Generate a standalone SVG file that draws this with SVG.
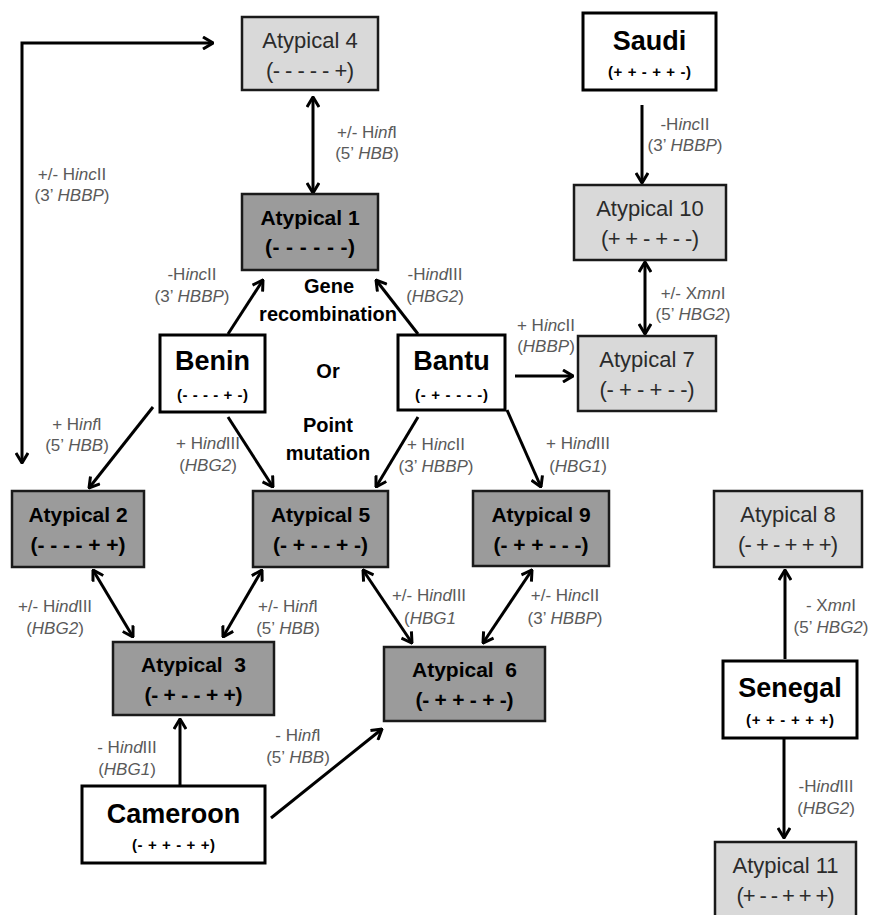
<svg xmlns="http://www.w3.org/2000/svg" width="871" height="915" viewBox="0 0 871 915">
<style>
text{font-family:"Liberation Sans",Arial,sans-serif;text-anchor:middle}
.light{fill:#d9d9d9;stroke:#1a1a1a;stroke-width:2.5}
.dark{fill:#9b9b9b;stroke:#1a1a1a;stroke-width:2.5}
.white{fill:#fff;stroke:#000;stroke-width:3}
.lt{font-size:22px;fill:#2b2b2b}
.dt{font-size:21px;font-weight:bold;fill:#000}
.ct{font-size:27px;font-weight:bold;fill:#000}
.cg{font-size:15px;font-weight:bold;fill:#000}
.lab{font-size:17px;fill:#5a5a5a}
.mid{font-size:20px;font-weight:bold;fill:#000}
.i{font-style:italic}
.conn line,.conn path{stroke:#000;stroke-width:3;fill:none}
</style>
<defs>
<marker id="ah" viewBox="0 0 12 14" refX="11" refY="7" markerWidth="12" markerHeight="14" markerUnits="userSpaceOnUse" orient="auto-start-reverse">
<path d="M1,1 L11,7 L1,13" fill="none" stroke="#000" stroke-width="3"/>
</marker>
</defs>

<g class="conn" id="connectors">
<path d="M22,463 V43 H213" marker-start="url(#ah)" marker-end="url(#ah)"/>
<line x1="313" y1="97" x2="313" y2="193" marker-start="url(#ah)" marker-end="url(#ah)"/>
<line x1="642" y1="105" x2="642" y2="183" marker-end="url(#ah)"/>
<line x1="645" y1="262" x2="645" y2="334" marker-start="url(#ah)" marker-end="url(#ah)"/>
<line x1="228" y1="334" x2="263" y2="280" marker-end="url(#ah)"/>
<line x1="418" y1="334" x2="376" y2="280" marker-end="url(#ah)"/>
<line x1="515" y1="376" x2="573" y2="376" marker-end="url(#ah)"/>
<line x1="153" y1="407" x2="89" y2="488" marker-end="url(#ah)"/>
<line x1="228" y1="417" x2="273" y2="487" marker-end="url(#ah)"/>
<line x1="418" y1="417" x2="376" y2="487" marker-end="url(#ah)"/>
<line x1="507" y1="410" x2="541" y2="487" marker-end="url(#ah)"/>
<line x1="93" y1="570" x2="133" y2="637" marker-start="url(#ah)" marker-end="url(#ah)"/>
<line x1="262" y1="570" x2="223" y2="637" marker-start="url(#ah)" marker-end="url(#ah)"/>
<line x1="363" y1="570" x2="412" y2="643" marker-start="url(#ah)" marker-end="url(#ah)"/>
<line x1="532" y1="570" x2="483" y2="643" marker-start="url(#ah)" marker-end="url(#ah)"/>
<line x1="180" y1="786" x2="180" y2="719" marker-end="url(#ah)"/>
<line x1="271" y1="818" x2="382" y2="729" marker-end="url(#ah)"/>
<line x1="785" y1="659" x2="785" y2="570" marker-end="url(#ah)"/>
<line x1="784" y1="738" x2="784" y2="838" marker-end="url(#ah)"/>
</g>

<g id="labels">
<text class="lab" x="72" y="180">+/- H<tspan class="i">inc</tspan>II</text>
<text class="lab" x="72" y="201">(3’ <tspan class="i">HBBP</tspan>)</text>
<text class="lab" x="367" y="138">+/- H<tspan class="i">inf</tspan>I</text>
<text class="lab" x="367" y="159">(5’ <tspan class="i">HBB</tspan>)</text>
<text class="lab" x="685" y="130">-H<tspan class="i">inc</tspan>II</text>
<text class="lab" x="685" y="151">(3’ <tspan class="i">HBBP</tspan>)</text>
<text class="lab" x="693" y="299">+/- X<tspan class="i">mn</tspan>I</text>
<text class="lab" x="693" y="320">(5’ <tspan class="i">HBG2</tspan>)</text>
<text class="lab" x="546" y="331">+ H<tspan class="i">inc</tspan>II</text>
<text class="lab" x="546" y="352">(<tspan class="i">HBBP</tspan>)</text>
<text class="lab" x="192" y="280">-H<tspan class="i">inc</tspan>II</text>
<text class="lab" x="192" y="302">(3’ <tspan class="i">HBBP</tspan>)</text>
<text class="lab" x="435" y="280">-H<tspan class="i">ind</tspan>III</text>
<text class="lab" x="435" y="302">(<tspan class="i">HBG2</tspan>)</text>
<text class="mid" x="329" y="293">Gene</text>
<text class="mid" x="328" y="321">recombination</text>
<text class="mid" x="328" y="378">Or</text>
<text class="mid" x="328" y="432">Point</text>
<text class="mid" x="328" y="460">mutation</text>
<text class="lab" x="77" y="430">+ H<tspan class="i">inf</tspan>I</text>
<text class="lab" x="77" y="451">(5’ <tspan class="i">HBB</tspan>)</text>
<text class="lab" x="208" y="449">+ H<tspan class="i">ind</tspan>III</text>
<text class="lab" x="208" y="471">(<tspan class="i">HBG2</tspan>)</text>
<text class="lab" x="436" y="450">+ H<tspan class="i">inc</tspan>II</text>
<text class="lab" x="436" y="472">(3’ <tspan class="i">HBBP</tspan>)</text>
<text class="lab" x="578" y="449">+ H<tspan class="i">ind</tspan>III</text>
<text class="lab" x="578" y="472">(<tspan class="i">HBG1</tspan>)</text>
<text class="lab" x="55" y="612">+/- H<tspan class="i">ind</tspan>III</text>
<text class="lab" x="55" y="634">(<tspan class="i">HBG2</tspan>)</text>
<text class="lab" x="288" y="612">+/- H<tspan class="i">inf</tspan>I</text>
<text class="lab" x="288" y="634">(5’ <tspan class="i">HBB</tspan>)</text>
<text class="lab" x="429" y="601">+/- H<tspan class="i">ind</tspan>III</text>
<text class="lab" x="404" y="624" style="text-anchor:start">(<tspan class="i">HBG1</tspan></text>
<text class="lab" x="565" y="601">+/- H<tspan class="i">inc</tspan>II</text>
<text class="lab" x="565" y="624">(3’ <tspan class="i">HBBP</tspan>)</text>
<text class="lab" x="127" y="753">- H<tspan class="i">ind</tspan>III</text>
<text class="lab" x="127" y="775">(<tspan class="i">HBG1</tspan>)</text>
<text class="lab" x="298" y="741">- H<tspan class="i">inf</tspan>I</text>
<text class="lab" x="298" y="763">(5’ <tspan class="i">HBB</tspan>)</text>
<text class="lab" x="831" y="611">- X<tspan class="i">mn</tspan>I</text>
<text class="lab" x="831" y="633">(5’ <tspan class="i">HBG2</tspan>)</text>
<text class="lab" x="826" y="792">-H<tspan class="i">ind</tspan>III</text>
<text class="lab" x="826" y="814">(<tspan class="i">HBG2</tspan>)</text>
</g>

<g id="atypical4"><rect class="light" x="242" y="17" width="136" height="73"/><text class="lt" x="310" y="48">Atypical 4</text><text class="lt" x="310" y="78" textLength="88">(- - - - - +)</text></g>
<g id="atypical1"><rect class="dark" x="242" y="194" width="136" height="76"/><text class="dt" x="310" y="225">Atypical 1</text><text class="dt" x="310" y="254" textLength="90">(- - - - - -)</text></g>
<g id="saudi"><rect class="white" x="583" y="13" width="133" height="77"/><text class="ct" x="649.5" y="50">Saudi</text><text class="cg" x="649.5" y="77" textLength="83">(+ + - + + -)</text></g>
<g id="atypical10"><rect class="light" x="574" y="185" width="152" height="75"/><text class="lt" x="650" y="216">Atypical 10</text><text class="lt" x="650" y="246" textLength="98">(+ + - + - -)</text></g>
<g id="atypical7"><rect class="light" x="578" y="336" width="138" height="75"/><text class="lt" x="647" y="367">Atypical 7</text><text class="lt" x="647" y="397" textLength="95">(- + - + - -)</text></g>
<g id="benin"><rect class="white" x="160" y="335" width="105" height="77"/><text class="ct" x="212.5" y="370">Benin</text><text class="cg" x="212.5" y="400" textLength="71">(- - - - + -)</text></g>
<g id="bantu"><rect class="white" x="398" y="335" width="107" height="75"/><text class="ct" x="451.5" y="370">Bantu</text><text class="cg" x="451.5" y="400" textLength="73">(- + - - - -)</text></g>
<g id="atypical2"><rect class="dark" x="12" y="491" width="132" height="76"/><text class="dt" x="78" y="522">Atypical 2</text><text class="dt" x="78" y="552" textLength="95">(- - - - + +)</text></g>
<g id="atypical5"><rect class="dark" x="253" y="491" width="135" height="76"/><text class="dt" x="320.5" y="522">Atypical 5</text><text class="dt" x="320.5" y="552" textLength="95">(- + - - + -)</text></g>
<g id="atypical9"><rect class="dark" x="473" y="491" width="136" height="75"/><text class="dt" x="541" y="522">Atypical 9</text><text class="dt" x="541" y="552" textLength="95">(- + + - - -)</text></g>
<g id="atypical8"><rect class="light" x="714" y="491" width="148" height="76"/><text class="lt" x="788" y="522">Atypical 8</text><text class="lt" x="788" y="552" textLength="100">(- + - + + +)</text></g>
<g id="atypical3"><rect class="dark" x="113" y="642" width="161" height="73"/><text class="dt" x="193.5" y="672" style="white-space:pre">Atypical  3</text><text class="dt" x="193.5" y="702" textLength="98">(- + - - + +)</text></g>
<g id="atypical6"><rect class="dark" x="384" y="647" width="161" height="74"/><text class="dt" x="464.5" y="677" style="white-space:pre">Atypical  6</text><text class="dt" x="464.5" y="707" textLength="98">(- + + - + -)</text></g>
<g id="senegal"><rect class="white" x="723" y="661" width="134" height="77"/><text class="ct" x="790" y="697">Senegal</text><text class="cg" x="790" y="725" textLength="88">(+ + - + + +)</text></g>
<g id="cameroon"><rect class="white" x="82" y="786" width="183" height="77"/><text class="ct" x="173.5" y="823">Cameroon</text><text class="cg" x="173.5" y="850" textLength="83">(- + + - + +)</text></g>
<g id="atypical11"><rect class="light" x="715" y="842" width="141" height="78"/><text class="lt" x="785.5" y="873">Atypical 11</text><text class="lt" x="785.5" y="903" textLength="98">(+ - - + + +)</text></g>
</svg>
